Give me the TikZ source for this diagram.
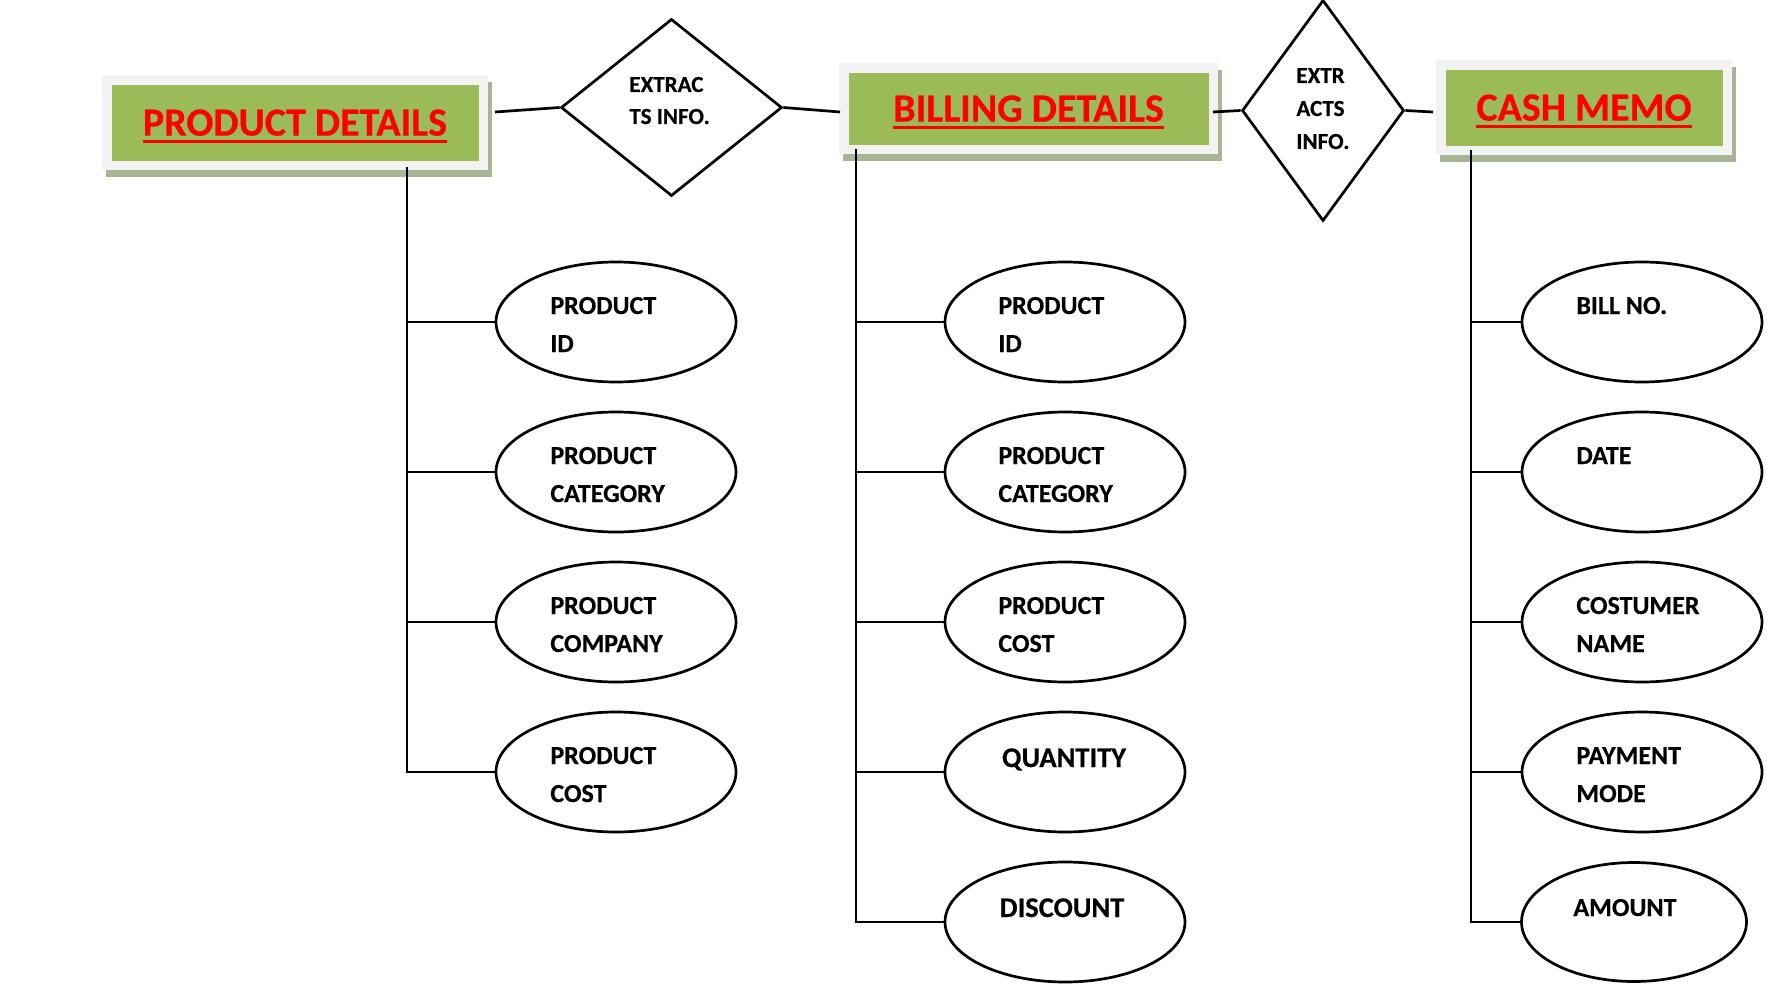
\documentclass[tikz,border=0pt]{standalone}
\usepackage{fontspec}
\setmainfont{Carlito}[BoldFeatures={FakeBold=0.4}]
\usetikzlibrary{shapes.geometric,shadows}
\definecolor{entgreen}{RGB}{155,187,89}
\definecolor{entgray}{RGB}{242,242,242}
\definecolor{entshadow}{RGB}{168,180,150}
\newcommand\myul[1]{\setbox0=\hbox{#1}\rlap{\vrule height -2pt depth 3.6pt width \wd0}\box0}
\newcommand\stacklines[2]{\vtop{\baselineskip=#1\lineskiplimit=0pt\relax #2}}
\begin{document}
\begin{tikzpicture}[x=0.5pt,y=-0.5pt,
  conn/.style={line width=1.35pt, black},
  entity/.style={fill=entgray, inner sep=0pt, text=red,
    font=\fontsize{20}{24}\selectfont\bfseries, text depth=0pt,
    drop shadow={shadow xshift=2pt, shadow yshift=-3.5pt, fill=entshadow, opacity=1},
    path picture={\fill[entgreen] ([shift={(5pt,-5pt)}]path picture bounding box.north west)
      rectangle ([shift={(-4.5pt,4.5pt)}]path picture bounding box.south east);}},
  rel/.style={diamond, draw, line width=1.35pt, inner sep=0pt},
  attr/.style={ellipse, draw, line width=1.35pt, inner sep=0pt, minimum width=120pt, minimum height=60pt},
  atxt/.style={anchor=base west, inner sep=0pt, font=\fontsize{13}{19}\selectfont\bfseries},
  btxt/.style={anchor=base, inner sep=0pt, font=\fontsize{14.25}{19}\selectfont\bfseries},
  dtxt/.style={anchor=base west, inner sep=0pt, font=\fontsize{11.5}{16}\selectfont\bfseries}
]
\useasboundingbox (0,0) rectangle (1767,990);

% entities
\node[entity, minimum width=193pt, minimum height=47.5pt] (pd) at (295,122.5) {\myul{PRODUCT DETAILS}};
\node[entity, minimum width=189.5pt, minimum height=45.5pt] (bd) at (1028.5,108.5) {\myul{BILLING DETAILS}};
\node[entity, minimum width=148pt, minimum height=47.5pt] (cm) at (1584,107.5) {\myul{CASH MEMO}};

% relationships
\node[rel, minimum width=110.5pt, minimum height=88.5pt] (d1) at (671.5,107.5) {};
\node[dtxt] (d1t) at (629,92) {\stacklines{16pt}{\hbox{EXTRAC}\hbox{TS INFO.}}};
\node[rel, minimum width=81pt, minimum height=110.5pt] (d2) at (1323,110.5) {};
\node[dtxt] (d2t) at (1296,83) {\stacklines{16.5pt}{\hbox{EXTR}\hbox{ACTS}\hbox{INFO.}}};

% attributes of PRODUCT DETAILS
\node[attr] (p1) at (616,322) {};
\node[attr] (p2) at (616,472) {};
\node[attr] (p3) at (616,622) {};
\node[attr] (p4) at (616,772) {};
\node[atxt] (p1t) at (550,314) {\stacklines{19pt}{\hbox{PRODUCT}\hbox{ID}}};
\node[atxt] (p2t) at (550,464) {\stacklines{19pt}{\hbox{PRODUCT}\hbox{CATEGORY}}};
\node[atxt] (p3t) at (550,614) {\stacklines{19pt}{\hbox{PRODUCT}\hbox{COMPANY}}};
\node[atxt] (p4t) at (550,764) {\stacklines{19pt}{\hbox{PRODUCT}\hbox{COST}}};

% attributes of BILLING DETAILS
\node[attr] (b1) at (1065,322) {};
\node[attr] (b2) at (1065,472) {};
\node[attr] (b3) at (1065,622) {};
\node[attr] (b4) at (1065,772) {};
\node[attr] (b5) at (1065,922) {};
\node[atxt] (b1t) at (998,314) {\stacklines{19pt}{\hbox{PRODUCT}\hbox{ID}}};
\node[atxt] (b2t) at (998,464) {\stacklines{19pt}{\hbox{PRODUCT}\hbox{CATEGORY}}};
\node[atxt] (b3t) at (998,614) {\stacklines{19pt}{\hbox{PRODUCT}\hbox{COST}}};
\node[btxt] (b4t) at (1064,767) {QUANTITY};
\node[btxt] (b5t) at (1062,917) {DISCOUNT};

% attributes of CASH MEMO
\node[attr] (c1) at (1642,322) {};
\node[attr] (c2) at (1642,472) {};
\node[attr] (c3) at (1642,622) {};
\node[attr] (c4) at (1642,772) {};
\node[attr, minimum width=112.5pt, minimum height=59.5pt] (c5) at (1634,922) {};
\node[atxt] (c1t) at (1576,314) {BILL NO.};
\node[atxt] (c2t) at (1576,464) {DATE};
\node[atxt] (c3t) at (1576,614) {\stacklines{19pt}{\hbox{COSTUMER}\hbox{NAME}}};
\node[atxt] (c4t) at (1576,764) {\stacklines{19pt}{\hbox{PAYMENT}\hbox{MODE}}};
\node[atxt] (c5t) at (1573,916) {AMOUNT};

% trunk lines
\coordinate (pdS) at (407,167);
\coordinate (bdS) at (856,149);
\coordinate (cmS) at (1471,150);
\draw[conn] (pdS) |- (p4.west);
\foreach \n in {p1,p2,p3} \draw[conn] (pdS |- \n.west) -- (\n.west);
\draw[conn] (bdS) |- (b5.west);
\foreach \n in {b1,b2,b3,b4} \draw[conn] (bdS |- \n.west) -- (\n.west);
\draw[conn] (cmS) |- (c5.west);
\foreach \n in {c1,c2,c3,c4} \draw[conn] (cmS |- \n.west) -- (\n.west);

% relationship links
\coordinate (pdR) at (495,112);
\coordinate (bdL) at (840,112);
\coordinate (bdR) at (1213,112);
\coordinate (cmL) at (1433,112);
\draw[conn] (pdR) -- (d1.west);
\draw[conn] (d1.east) -- (bdL);
\draw[conn] (bdR) -- (d2.west);
\draw[conn] (d2.east) -- (cmL);
\end{tikzpicture}
\end{document}
